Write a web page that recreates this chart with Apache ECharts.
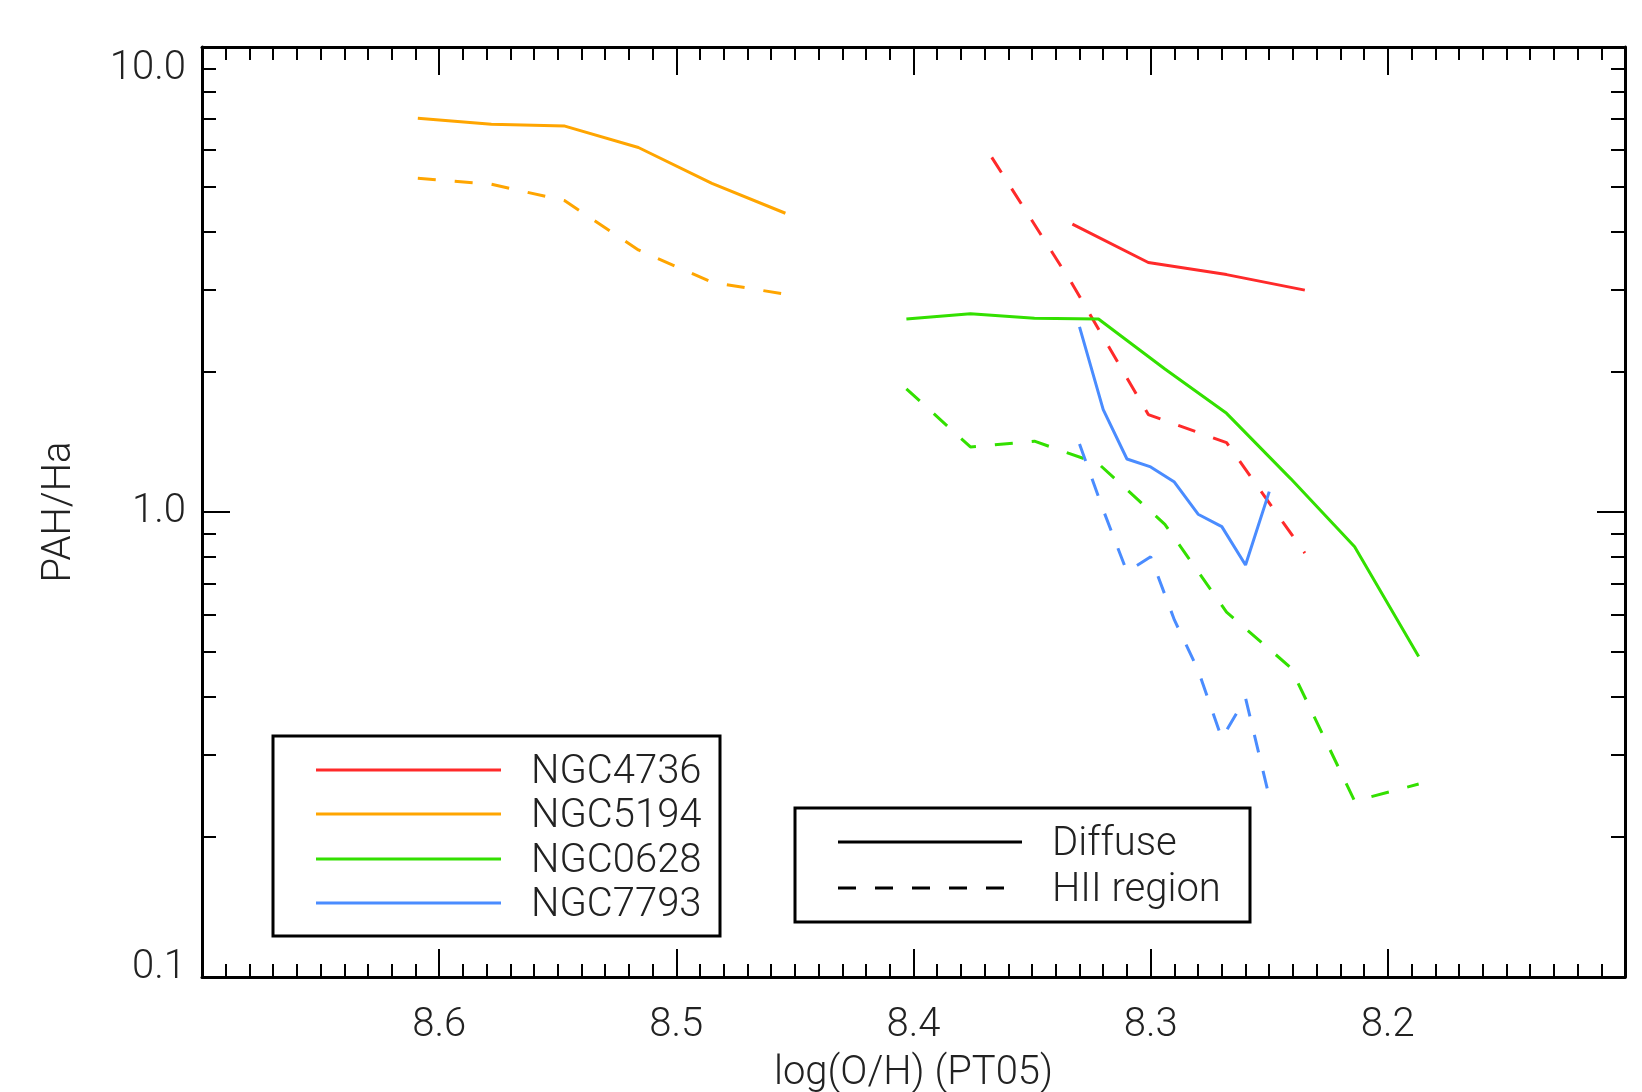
<!DOCTYPE html>
<html>
<head>
<meta charset="utf-8">
<script src="https://cdn.jsdelivr.net/npm/echarts@6/dist/echarts.min.js"></script>
<style>
  html, body { margin: 0; padding: 0; background: #fff; }
  #main { width: 1642px; height: 1092px; }
</style>
</head>
<body>
<div id="main"></div>
<script>
// log(O/H) bins and PAH/Ha ratios
var galaxies = ['NGC4736', 'NGC5194', 'NGC0628', 'NGC7793'];
var colors = ['#ff2a2a', '#ffa500', '#33e000', '#4a8cff'];

var oh4736Diffuse = [8.333, 8.301, 8.268, 8.235];
var pah4736Diffuse = [4.16, 3.44, 3.24, 3.00];
var oh4736HII = [8.367, 8.333, 8.301, 8.268, 8.235];
var pah4736HII = [5.79, 3.09, 1.62, 1.41, 0.816];

var oh5194 = [8.609, 8.578, 8.547, 8.516, 8.485, 8.454];
var pah5194Diffuse = [7.03, 6.82, 6.76, 6.08, 5.09, 4.39];
var pah5194HII = [5.22, 5.07, 4.67, 3.66, 3.12, 2.94];

var oh0628 = [8.403, 8.376, 8.349, 8.322, 8.294, 8.268, 8.241, 8.214, 8.187];
var pah0628Diffuse = [2.60, 2.67, 2.61, 2.60, 2.03, 1.63, 1.18, 0.842, 0.489];
var pah0628HII = [1.84, 1.38, 1.42, 1.27, 0.941, 0.609, 0.463, 0.239, 0.260];

var oh7793 = [8.33, 8.32, 8.31, 8.30, 8.29, 8.28, 8.27, 8.26, 8.25];
var pah7793Diffuse = [2.50, 1.66, 1.30, 1.25, 1.16, 0.989, 0.930, 0.769, 1.106];
var pah7793HII = [1.40, 1.01, 0.744, 0.801, 0.586, 0.457, 0.326, 0.398, 0.244];

var yMinorTicks = [0.2, 0.3, 0.4, 0.5, 0.6, 0.7, 0.8, 0.9, 2, 3, 4, 5, 6, 7, 8, 9];
var typeNames = ['Diffuse', 'HII region'];

var FONT = 'Roboto, "Liberation Sans", sans-serif';
var dash = [18, 19];

function pairs(xs, ys) {
  return xs.map(function (x, i) { return [x, ys[i]]; });
}

function lineSeries(name, idx, xs, ys, dashed) {
  return {
    name: name,
    type: 'line',
    xAxisIndex: 0,
    yAxisIndex: 0,
    showSymbol: false,
    symbol: 'none',
    silent: true,
    data: pairs(xs, ys),
    lineStyle: { color: colors[idx], width: 3, type: dashed ? dash : 'solid' },
    z: 3
  };
}

function xAxisDef(pos, withLabels) {
  return {
    type: 'value',
    position: pos,
    min: 8.1,
    max: 8.7,
    interval: 0.1,
    inverse: true,
    axisLine: { show: true, onZero: false, lineStyle: { color: '#000', width: 3 } },
    axisTick: { show: true, inside: true, length: 28, lineStyle: { color: '#000', width: 2 } },
    minorTick: { show: true, splitNumber: 10, length: 13, lineStyle: { color: '#000', width: 2 } },
    splitLine: { show: false },
    minorSplitLine: { show: false },
    axisLabel: {
      show: withLabels,
      showMinLabel: false,
      showMaxLabel: false,
      margin: 29,
      color: '#222',
      fontSize: 40,
      fontWeight: 300,
      fontFamily: FONT,
      formatter: function (v) { return v.toFixed(1); }
    },
    name: withLabels ? 'log(O/H) (PT05)' : '',
    nameLocation: 'middle',
    nameGap: 77,
    nameTextStyle: { color: '#222', fontSize: 40, fontWeight: 300, fontFamily: FONT }
  };
}

function yAxisDef(pos, major, withLabels) {
  var ax = {
    type: 'log',
    logBase: 10,
    position: pos,
    min: 0.1,
    max: 10,
    axisLine: { show: major, onZero: false, lineStyle: { color: '#000', width: 3 } },
    axisTick: {
      show: true,
      inside: true,
      length: major ? 28 : 14,
      lineStyle: { color: '#000', width: 2 }
    },
    splitLine: { show: false },
    axisLabel: { show: false }
  };
  if (!major) {
    ax.axisTick.customValues = yMinorTicks;
  }
  if (withLabels) {
    ax.axisLabel = {
      show: true,
      margin: 16,
      color: '#222',
      fontSize: 40,
      fontWeight: 300,
      fontFamily: FONT,
      formatter: function (v) {
        var s = v.toFixed(1);
        if (v > 5) return '{d|' + s + '}';
        if (v < 0.5) return '{u|' + s + '}';
        return s;
      },
      rich: {
        d: { fontSize: 40, fontWeight: 300, fontFamily: FONT, color: '#222', padding: [44, 0, 0, 0] },
        u: { fontSize: 40, fontWeight: 300, fontFamily: FONT, color: '#222', padding: [0, 0, 18, 0] }
      }
    };
    ax.name = 'PAH/Ha';
    ax.nameLocation = 'middle';
    ax.nameGap = 122;
    ax.nameRotate = 90;
    ax.nameTextStyle = { color: '#222', fontSize: 40, fontWeight: 300, fontFamily: FONT };
  }
  return ax;
}

function legendGraphics() {
  var g = [];
  // galaxy box
  g.push({ type: 'rect', shape: { x: 273, y: 736, width: 447, height: 200 },
    style: { fill: '#fff', stroke: '#000', lineWidth: 3 }, z: 10 });
  var rows = [770, 814, 859, 903];
  galaxies.forEach(function (name, i) {
    g.push({ type: 'line', shape: { x1: 316, y1: rows[i], x2: 501, y2: rows[i] },
      style: { stroke: colors[i], lineWidth: 3 }, z: 11 });
    g.push({ type: 'text', x: 531, y: rows[i] + 3,
      style: { text: name, fill: '#222', fontSize: 40, fontWeight: 300, fontFamily: FONT,
        verticalAlign: 'middle', align: 'left' }, z: 11 });
  });
  // line type box
  g.push({ type: 'rect', shape: { x: 795, y: 808, width: 455, height: 114 },
    style: { fill: '#fff', stroke: '#000', lineWidth: 3 }, z: 10 });
  var rows2 = [842, 888];
  typeNames.forEach(function (name, i) {
    g.push({ type: 'line', shape: { x1: 838, y1: rows2[i], x2: i ? 1010 : 1022, y2: rows2[i] },
      style: { stroke: '#000', lineWidth: 3, lineDash: i ? dash : null }, z: 11 });
    g.push({ type: 'text', x: 1052, y: rows2[i] + 3,
      style: { text: name, fill: '#222', fontSize: 40, fontWeight: 300, fontFamily: FONT,
        verticalAlign: 'middle', align: 'left' }, z: 11 });
  });
  return g;
}

function getOption() {
  return {
    backgroundColor: '#fff',
    animation: false,
    grid: { left: 202, top: 47, width: 1423, height: 930, containLabel: false, outerBoundsMode: 'none' },
    xAxis: [xAxisDef('bottom', true), xAxisDef('top', false)],
    yAxis: [
      yAxisDef('left', true, true),
      yAxisDef('left', false, false),
      yAxisDef('right', true, false),
      yAxisDef('right', false, false)
    ],
    series: [
      lineSeries('NGC4736 Diffuse', 0, oh4736Diffuse, pah4736Diffuse, false),
      lineSeries('NGC4736 HII region', 0, oh4736HII, pah4736HII, true),
      lineSeries('NGC5194 Diffuse', 1, oh5194, pah5194Diffuse, false),
      lineSeries('NGC5194 HII region', 1, oh5194, pah5194HII, true),
      lineSeries('NGC0628 Diffuse', 2, oh0628, pah0628Diffuse, false),
      lineSeries('NGC0628 HII region', 2, oh0628, pah0628HII, true),
      lineSeries('NGC7793 Diffuse', 3, oh7793, pah7793Diffuse, false),
      lineSeries('NGC7793 HII region', 3, oh7793, pah7793HII, true)
    ],
    graphic: legendGraphics()
  };
}

var chart = echarts.init(document.getElementById('main'), null, { renderer: 'canvas' });
chart.setOption(getOption());
</script>
</body>
</html>
